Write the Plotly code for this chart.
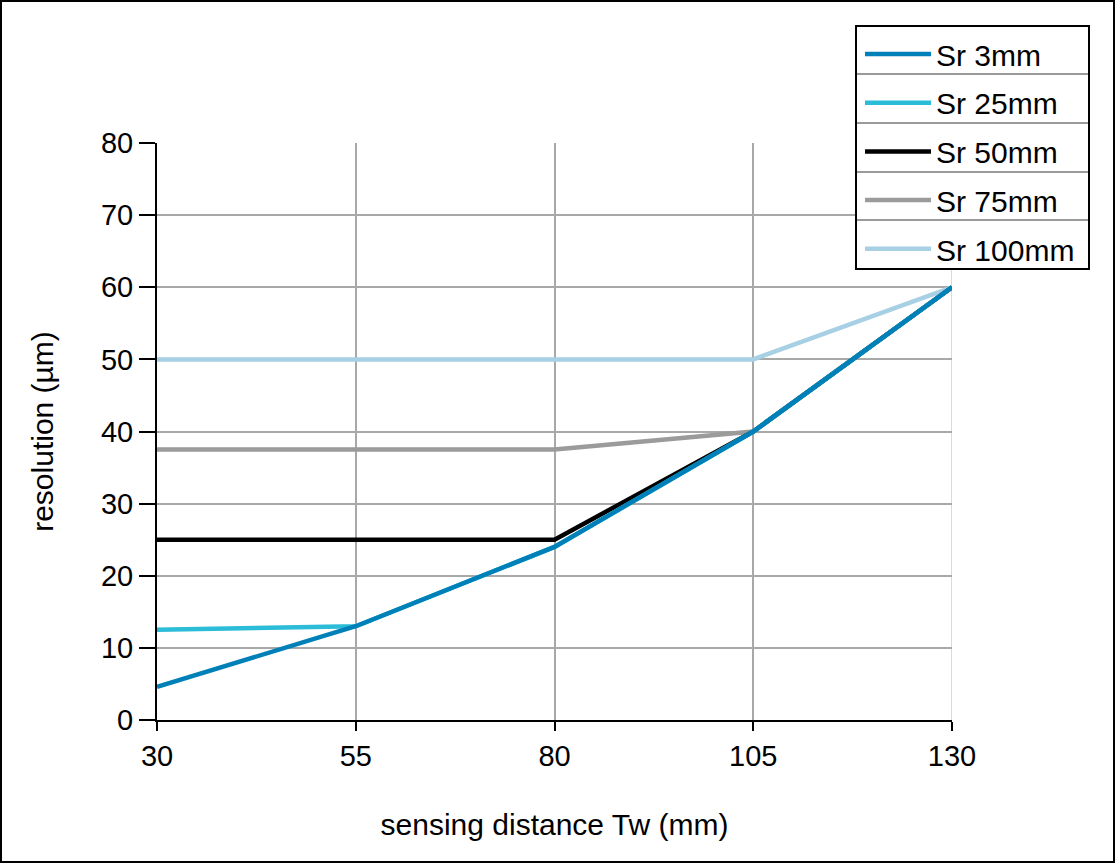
import plotly.graph_objects as go

distance = [30, 55, 80, 105, 130]
sr_3mm = [4.6, 13, 24, 40, 60]
sr_25mm = [12.5, 13, 24, 40, 60]
sr_50mm = [25, 25, 25, 40, 60]
sr_75mm = [37.5, 37.5, 37.5, 40, 60]
sr_100mm = [50, 50, 50, 50, 60]
y_ticks = [0, 10, 20, 30, 40, 50, 60, 70, 80]

series = [
    ("Sr 3mm", sr_3mm, "#0080B8", 1),
    ("Sr 25mm", sr_25mm, "#2BBDD8", 2),
    ("Sr 50mm", sr_50mm, "#000000", 3),
    ("Sr 75mm", sr_75mm, "#9B9B9B", 4),
    ("Sr 100mm", sr_100mm, "#A7D0E4", 5),
]

FONT = "Liberation Sans, Arial, sans-serif"
fig = go.Figure()
for name, vals, color, rank in reversed(series):
    fig.add_trace(go.Scatter(
        x=distance, y=vals, mode="lines", name=name,
        line=dict(color=color, width=4.5), legendrank=rank,
        legendgroup=name,
    ))

W, H = 1116, 864
L, R, T, B = 157, 952, 143, 720
pw, ph = R - L, B - T

def px(xp):
    return (xp - L) / pw

def py(yp):
    return (B - yp) / ph

shapes = []
# outer frame
shapes.append(dict(type="rect", xref="paper", yref="paper",
                   x0=px(1), x1=px(1114), y0=py(862), y1=py(1),
                   line=dict(color="black", width=2), layer="below"))
# light edge line at x=130
shapes.append(dict(type="line", xref="x", yref="paper", x0=130, x1=130, y0=0, y1=1,
                   line=dict(color="#DADADA", width=2), layer="below"))
# legend box
shapes.append(dict(type="rect", xref="paper", yref="paper",
                   x0=px(856), x1=px(1089), y0=py(269), y1=py(26),
                   fillcolor="white", line=dict(color="black", width=2)))
# legend separators
for yp in [74, 123, 172, 220]:
    shapes.append(dict(type="line", xref="paper", yref="paper",
                       x0=px(857), x1=px(1088), y0=py(yp), y1=py(yp),
                       line=dict(color="#9A9A9A", width=2)))

fig.update_layout(
    width=W, height=H,
    margin=dict(l=L, r=W - R, t=T, b=H - B, pad=0),
    paper_bgcolor="white", plot_bgcolor="white",
    font=dict(family=FONT, size=30, color="black"),
    showlegend=True,
    legend=dict(
        x=px(860), y=py(28), xanchor="left", yanchor="top",
        borderwidth=0, bgcolor="rgba(0,0,0,0)",
        font=dict(size=30), traceorder="grouped", tracegroupgap=6.7,
        itemwidth=66,
    ),
    xaxis=dict(
        range=[30, 130], tickmode="array", tickvals=distance,
        ticks="outside", ticklen=9, tickwidth=2, tickcolor="black",
        showline=True, linecolor="black", linewidth=2,
        showgrid=True, gridcolor="#A8A8A8", gridwidth=2,
        zeroline=False, tickfont=dict(size=29),
        title=dict(text="sensing distance Tw (mm)", font=dict(size=30), standoff=43),
    ),
    yaxis=dict(
        range=[0, 80], tickmode="array", tickvals=y_ticks,
        ticks="outside", ticklen=16, tickwidth=2, tickcolor="black",
        showline=True, linecolor="black", linewidth=2,
        showgrid=True, gridcolor="#A8A8A8", gridwidth=2,
        zeroline=False, tickfont=dict(size=29),
        title=dict(text="resolution (µm)", font=dict(size=30), standoff=38),
    ),
    xaxis2=dict(
        range=[30, 130], tickmode="array", tickvals=distance,
        overlaying="x", anchor="y", side="bottom",
        ticks="inside", ticklen=8, tickwidth=2, tickcolor="black",
        showticklabels=False, showgrid=False, showline=False, zeroline=False,
    ),
    yaxis2=dict(
        range=[0, 80], tickmode="array", tickvals=y_ticks,
        overlaying="y", anchor="x", side="left",
        ticks="inside", ticklen=10, tickwidth=2, tickcolor="black",
        showticklabels=False, showgrid=False, showline=False, zeroline=False,
    ),
    shapes=shapes,
)

fig.write_html("out.html", config={"displayModeBar": False},
               post_script="document.body.style.margin='0px';document.body.style.overflow='hidden';")
